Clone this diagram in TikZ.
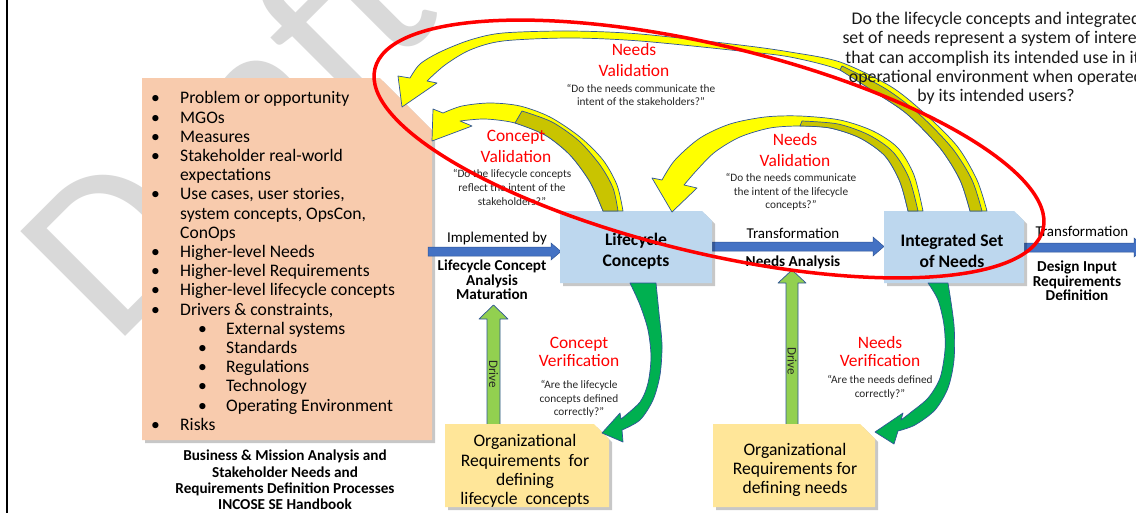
\documentclass[tikz,border=0pt]{standalone}
\usepackage{fontspec}
\setmainfont{Carlito}
\usetikzlibrary{calc}
\definecolor{peach}{HTML}{F8CBAD}
\definecolor{boxblue}{HTML}{BDD7EE}
\definecolor{orgyel}{HTML}{FFE699}
\definecolor{arrblue}{HTML}{4472C4}
\definecolor{edgeblue}{HTML}{2F5597}
\definecolor{yel}{HTML}{FFFF00}
\definecolor{yolive}{HTML}{C9C400}
\definecolor{grn}{HTML}{00B050}
\definecolor{drivegrn}{HTML}{92D050}
\definecolor{wmgray}{HTML}{D9D9D9}
\definecolor{qtext}{HTML}{262626}
\newcommand\pkbul{\makebox[29pt][l]{\textbullet}}
\newcommand\pkind{\hspace*{29pt}}
\newcommand\pksub{\hspace*{47pt}\makebox[28pt][l]{\textbullet}}
\begin{document}
\begin{tikzpicture}[x=1pt,y=-1pt,
  every node/.style={inner sep=0pt},
  edgeline/.style={draw=edgeblue, line width=0.7pt, line join=round},
  yarrow/.style={edgeline, fill=yel},
  yback/.style={edgeline, fill=yolive},
  garrow/.style={edgeline, fill=grn},
  darrow/.style={edgeline, fill=drivegrn},
  barrow/.style={draw=edgeblue, line width=0.5pt, fill=arrblue},
  shadowfill/.style={fill=black, opacity=0.22},
  redlbl/.style={text=red, align=center, font=\fontsize{17.4}{20.5}\selectfont},
  redver/.style={text=red, align=center, font=\fontsize{17.4}{18}\selectfont},
  quote/.style={text=qtext, align=center, font=\fontsize{11.3}{13.7}\selectfont},
  plainlbl/.style={align=center, font=\fontsize{15}{18}\selectfont},
  boldlbl/.style={align=center, font=\fontsize{15.2}{14.5}\selectfont\bfseries},
  boxtext/.style={align=center, font=\fontsize{17.6}{20.5}\selectfont\bfseries},
  orgtext/.style={align=center, font=\fontsize{17.6}{19.3}\selectfont},
  listtext/.style={align=left, font=\fontsize{17.6}{19.2}\selectfont},
  qlbl/.style={align=center, text=black!90, font=\fontsize{17.8}{19.3}\selectfont},
  drivetxt/.style={font=\fontsize{13}{13}\selectfont, text=black!85},
]
\useasboundingbox (0,0) rectangle (1136,512);
\clip (0,0) rectangle (1136,512);
\fill[white] (0,0) rectangle (1136,512);

% watermark
\node[text=wmgray, rotate=45, anchor=base west, font=\fontsize{231}{231}\selectfont] (wm) at (114,348) {Draft};

% left frame line
\draw[line width=2pt] (7,-2) -- (7,514);

% peach box
\fill[shadowfill] (145,81) -- (383,81) -- (435,133) -- (435,443) -- (145,443) -- cycle;
\fill[peach] (142,78) -- (380,78) -- (432,130) -- (432,440) -- (142,440) -- cycle;
\node[listtext, anchor=north west] (list) at (151,91.5) {%
\pkbul Problem or opportunity\\
\pkbul MGOs\\
\pkbul Measures\\
\pkbul Stakeholder real-world\\
\pkind expectations\\
\pkbul Use cases, user stories,\\
\pkind system concepts, OpsCon,\\
\pkind ConOps\\
\pkbul Higher-level Needs\\
\pkbul Higher-level Requirements\\
\pkbul Higher-level lifecycle concepts\\
\pkbul Drivers \& constraints,\\
\pksub External systems\\
\pksub Standards\\
\pksub Regulations\\
\pksub Technology\\
\pksub Operating Environment\\
\pkbul Risks};
\node[boldlbl, font=\fontsize{15.2}{16.4}\selectfont\bfseries] (cap) at (285,480)
  {Business \& Mission Analysis and\\Stakeholder Needs and\\Requirements Definition Processes\\INCOSE SE Handbook};

% blue block arrows
\filldraw[barrow] (428,247) -- (551,247) -- (551,243) -- (561,251.5) -- (551,260) -- (551,256) -- (428,256) -- cycle;
\filldraw[barrow] (712,242) -- (873,242) -- (873,237) -- (884,246.5) -- (873,256) -- (873,251) -- (712,251) -- cycle;
\filldraw[barrow] (1024,243) -- (1134,243) -- (1134,238) -- (1146,247.5) -- (1134,257) -- (1134,252) -- (1024,252) -- cycle;

% drive arrows
\filldraw[darrow] (487,426) -- (487,319) -- (479,319) -- (493.5,305) -- (508,319) -- (500,319) -- (500,426) -- cycle;
\filldraw[darrow] (786,426) -- (786,283) -- (778,283) -- (792,270) -- (806,283) -- (798,283) -- (798,426) -- cycle;
\node[drivetxt, rotate=-90] (d1) at (493.5,374) {Drive};
\node[drivetxt, rotate=-90] (d2) at (792,361) {Drive};

% blue boxes
\fill[shadowfill] (563,214) -- (705,214) -- (715,224) -- (715,286) -- (563,286) -- cycle;
\fill[boxblue] (560,211) -- (702,211) -- (712,221) -- (712,283) -- (560,283) -- cycle;
\fill[shadowfill] (887,214) -- (1017,214) -- (1027,224) -- (1027,286) -- (887,286) -- cycle;
\fill[boxblue] (884,211) -- (1014,211) -- (1024,221) -- (1024,283) -- (884,283) -- cycle;
\node[boxtext] (lc) at (636,251) {Lifecycle\\Concepts};
\node[boxtext] (isn) at (952,251) {Integrated Set\\of Needs};

% organizational boxes
\fill[shadowfill] (448,427) -- (597,427) -- (612,442) -- (612,510) -- (448,510) -- cycle;
\fill[orgyel] (445,424) -- (594,424) -- (609,439) -- (609,507) -- (445,507) -- cycle;
\fill[shadowfill] (716,427) -- (863,427) -- (878,442) -- (878,510) -- (716,510) -- cycle;
\fill[orgyel] (713,424) -- (860,424) -- (875,439) -- (875,507) -- (713,507) -- cycle;
\node[orgtext] (orgl) at (525,471) {Organizational\\Requirements~~for\\defining\\lifecycle~~concepts};
\node[orgtext] (orgr) at (795,470) {Organizational\\Requirements for\\defining needs};

% yellow curved arrow: needs validation (top)
\filldraw[yarrow] plot[smooth] coordinates {(970,211) (960,180) (940,148) (907,114) (873,91) (840,70) (790,57) (740,51) (640,41) (570,38) (503,41) (470,50) (445,65) (427,81)}
  -- (437,83) -- (402,107) -- (398,76) --
  plot[smooth] coordinates {(410,78) (420,64) (440,52) (470,40) (503,33) (570,31) (640,34) (740,45) (790,52) (840,62) (890,86) (923,112) (957,146) (977,180) (987,211)} -- cycle;
\filldraw[yback] plot[smooth] coordinates {(970,211) (960,180) (940,148) (907,114) (873,91) (840,70)}
  -- plot[smooth] coordinates {(842,66) (886,89) (919,114) (952,148) (972,180) (982,211)} -- cycle;

% yellow curved arrow: concept validation
\filldraw[yarrow] plot[smooth] coordinates {(603,211) (590,182) (570,155) (545,135) (515,123) (485,119) (460,121)}
  -- (472,126) -- (432,141) -- (433,109) --
  plot[smooth] coordinates {(443,113) (462,106) (490,103) (520,106) (550,117) (580,137) (603,160) (617,185) (623,211)} -- cycle;
\filldraw[yback] plot[smooth] coordinates {(603,211) (590,182) (570,155) (545,135) (515,123)}
  -- plot[smooth] coordinates {(522,111) (552,122) (579,141) (600,165) (613,188) (618,211)} -- cycle;

% yellow curved arrow: needs validation (middle)
\filldraw[yarrow] plot[smooth] coordinates {(908,211) (900,182) (885,156) (860,138) (830,128) (800,126) (770,128) (740,137) (715,152) (697,170) (684,185)}
  -- (697,188) -- (672,212) -- (652,178) --
  plot[smooth] coordinates {(662,180) (675,160) (700,138) (730,124) (765,117) (800,116) (840,120) (873,131) (898,148) (914,175) (923,211)} -- cycle;
\filldraw[yback] plot[smooth] coordinates {(908,211) (900,182) (885,156) (860,138) (830,128) (800,126)}
  -- plot[smooth] coordinates {(802,121) (838,124) (869,135) (893,152) (909,178) (918,211)} -- cycle;

% green curved arrows
\filldraw[garrow] plot[smooth] coordinates {(630,283) (640,305) (648,330) (651,357) (648,383) (640,402) (621,419)}
  -- (620,413) -- (602,433) -- (623,442) --
  plot[smooth] coordinates {(622,430) (640,420) (653,400) (660,375) (662,345) (659,313) (656,283)} -- cycle;
\filldraw[garrow] plot[smooth] coordinates {(928,283) (938,300) (944,325) (945,350) (940,378) (928,398) (910,413) (901,420)}
  -- (903,413) -- (875,432) -- (894,444) --
  plot[smooth] coordinates {(898,431) (915,425) (935,410) (948,388) (954,360) (954,325) (948,283)} -- cycle;

% labels on arrows
\node[plainlbl] (impl) at (497,238) {Implemented by};
\node[boldlbl] (lcam) at (492,280) {Lifecycle Concept\\Analysis\\Maturation};
\node[plainlbl] (tr1) at (793,233) {Transformation};
\node[boldlbl] (na) at (793,262) {Needs Analysis};
\node[plainlbl] (tr2) at (1082,231) {Transformation};
\node[boldlbl] (dird) at (1077,281) {Design Input\\Requirements\\Definition};

% validation / verification texts
\node[redlbl] (nv1) at (634,60) {Needs\\Validation};
\node[quote] (nv1q) at (641,95) {“Do the needs communicate the\\intent of the stakeholders?”};
\node[redlbl] (cv) at (516,146.5) {Concept\\Validation};
\node[quote] (cvq) at (512,187.5) {“Do the lifecycle concepts\\reflect the intent of the\\stakeholders?”};
\node[redlbl] (nv2) at (795,150) {Needs\\Validation};
\node[quote] (nv2q) at (791,192) {“Do the needs communicate\\the intent of the lifecycle\\concepts?”};
\node[redver] (cver) at (579,352) {Concept\\Verification};
\node[quote] (cverq) at (579,399) {“Are the lifecycle\\concepts defined\\correctly?”};
\node[redver] (nver) at (880,351.5) {Needs\\Verification};
\node[quote] (nverq) at (880,387) {“Are the needs defined\\correctly?”};

% question
\node[qlbl] (q) at (996,58.5) {Do the lifecycle concepts and integrated\\set of needs represent a system of interest\\that can accomplish its intended use in its\\operational environment when operated\\by its intended users?};

% red ellipse
\draw[red, line width=3.5pt, rotate around={-13.5:(709,149)}] (709,149) ellipse [x radius=343.6, y radius=103.8];
\end{tikzpicture}
\end{document}
